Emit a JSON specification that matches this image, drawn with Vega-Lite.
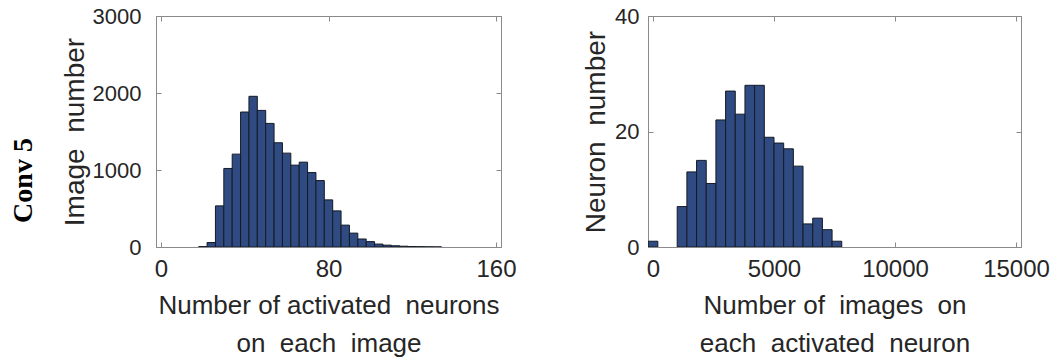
{
  "$schema": "https://vega.github.io/schema/vega-lite/v6.json",
  "background": "white",
  "padding": {"left": 9, "top": 4, "right": 2, "bottom": 2},
  "title": {"text": "Conv 5", "orient": "left", "anchor": "middle", "font": "Liberation Serif", "fontSize": 28, "fontWeight": "bold", "color": "black", "offset": 23},
  "datasets": {
    "left": [
      {"x0": 18, "x1": 22, "count": 5},
      {"x0": 22, "x1": 26, "count": 58},
      {"x0": 26, "x1": 30, "count": 534},
      {"x0": 30, "x1": 34, "count": 1020},
      {"x0": 34, "x1": 38, "count": 1206},
      {"x0": 38, "x1": 42, "count": 1753},
      {"x0": 42, "x1": 46, "count": 1957},
      {"x0": 46, "x1": 50, "count": 1774},
      {"x0": 50, "x1": 54, "count": 1605},
      {"x0": 54, "x1": 58, "count": 1354},
      {"x0": 58, "x1": 62, "count": 1219},
      {"x0": 62, "x1": 66, "count": 1063},
      {"x0": 66, "x1": 70, "count": 1102},
      {"x0": 70, "x1": 74, "count": 967},
      {"x0": 74, "x1": 78, "count": 863},
      {"x0": 78, "x1": 82, "count": 612},
      {"x0": 82, "x1": 86, "count": 469},
      {"x0": 86, "x1": 90, "count": 284},
      {"x0": 90, "x1": 94, "count": 180},
      {"x0": 94, "x1": 98, "count": 104},
      {"x0": 98, "x1": 102, "count": 70},
      {"x0": 102, "x1": 106, "count": 38},
      {"x0": 106, "x1": 110, "count": 24},
      {"x0": 110, "x1": 114, "count": 16},
      {"x0": 114, "x1": 118, "count": 10},
      {"x0": 118, "x1": 122, "count": 6},
      {"x0": 122, "x1": 126, "count": 4},
      {"x0": 126, "x1": 130, "count": 2},
      {"x0": 130, "x1": 134, "count": 1}
    ],
    "right": [
      {"x0": -200, "x1": 200, "count": 1},
      {"x0": 1000, "x1": 1400, "count": 7},
      {"x0": 1400, "x1": 1800, "count": 13},
      {"x0": 1800, "x1": 2200, "count": 15},
      {"x0": 2200, "x1": 2600, "count": 11},
      {"x0": 2600, "x1": 3000, "count": 22},
      {"x0": 3000, "x1": 3400, "count": 27},
      {"x0": 3400, "x1": 3800, "count": 23},
      {"x0": 3800, "x1": 4200, "count": 28},
      {"x0": 4200, "x1": 4600, "count": 28},
      {"x0": 4600, "x1": 5000, "count": 19},
      {"x0": 5000, "x1": 5400, "count": 18},
      {"x0": 5400, "x1": 5800, "count": 17},
      {"x0": 5800, "x1": 6200, "count": 14},
      {"x0": 6200, "x1": 6600, "count": 4},
      {"x0": 6600, "x1": 7000, "count": 5},
      {"x0": 7000, "x1": 7400, "count": 3},
      {"x0": 7400, "x1": 7800, "count": 1}
    ]
  },
  "bounds": "flush",
  "spacing": 147,
  "hconcat": [
    {
      "width": 345,
      "height": 231,
      "data": {"name": "left"},
      "resolve": {"axis": {"x": "independent", "y": "independent"}},
      "layer": [
        {
          "mark": {"type": "bar", "orient": "vertical", "fill": "#2f4b82", "stroke": "#151a26", "strokeWidth": 1, "clip": true},
          "encoding": {
            "x": {"field": "x0", "type": "quantitative", "scale": {"domain": [0, 160], "nice": false, "zero": false},
                  "axis": {"values": [0, 80, 160], "format": "d", "title": ["Number of activated\u00a0 neurons", "on\u00a0 each\u00a0 image"]}},
            "x2": {"field": "x1"},
            "y": {"field": "count", "type": "quantitative", "scale": {"domain": [0, 3000], "nice": false},
                  "axis": {"values": [0, 1000, 2000, 3000], "format": "d", "title": "Image\u00a0 number", "labelPadding": 20, "minExtent": 60, "maxExtent": 60, "titlePadding": 7}},
            "y2": {"datum": 0}
          }
        },
        {
          "mark": {"type": "bar", "orient": "vertical", "opacity": 0, "clip": true},
          "encoding": {
            "x": {"field": "x0", "type": "quantitative", "scale": {"domain": [0, 160], "nice": false, "zero": false},
                  "axis": {"orient": "top", "values": [0, 80, 160], "labels": false, "title": null, "minExtent": 0, "maxExtent": 0}},
            "x2": {"field": "x1"},
            "y": {"field": "count", "type": "quantitative", "scale": {"domain": [0, 3000], "nice": false},
                  "axis": {"orient": "right", "values": [0, 1000, 2000, 3000], "labels": false, "title": null, "minExtent": 0, "maxExtent": 0}},
            "y2": {"datum": 0}
          }
        }
      ]
    },
    {
      "width": 373,
      "height": 231,
      "data": {"name": "right"},
      "resolve": {"axis": {"x": "independent", "y": "independent"}},
      "layer": [
        {
          "mark": {"type": "bar", "orient": "vertical", "fill": "#2f4b82", "stroke": "#151a26", "strokeWidth": 1, "clip": true},
          "encoding": {
            "x": {"field": "x0", "type": "quantitative", "scale": {"domain": [0, 15000], "nice": false, "zero": false},
                  "axis": {"values": [0, 5000, 10000, 15000], "format": "d", "title": ["Number of\u00a0 images\u00a0 on", "each\u00a0 activated\u00a0 neuron"]}},
            "x2": {"field": "x1"},
            "y": {"field": "count", "type": "quantitative", "scale": {"domain": [0, 40], "nice": false},
                  "axis": {"values": [0, 20, 40], "format": "d", "title": "Neuron\u00a0 number", "labelPadding": 14, "minExtent": 34, "maxExtent": 34, "titlePadding": 4}},
            "y2": {"datum": 0}
          }
        },
        {
          "mark": {"type": "bar", "orient": "vertical", "opacity": 0, "clip": true},
          "encoding": {
            "x": {"field": "x0", "type": "quantitative", "scale": {"domain": [0, 15000], "nice": false, "zero": false},
                  "axis": {"orient": "top", "values": [0, 5000, 10000, 15000], "labels": false, "title": null, "minExtent": 0, "maxExtent": 0}},
            "x2": {"field": "x1"},
            "y": {"field": "count", "type": "quantitative", "scale": {"domain": [0, 40], "nice": false},
                  "axis": {"orient": "right", "values": [0, 20, 40], "labels": false, "title": null, "minExtent": 0, "maxExtent": 0}},
            "y2": {"datum": 0}
          }
        }
      ]
    }
  ],
  "config": {
    "view": {"stroke": "#8a8a8a", "strokeWidth": 1},
    "axis": {
      "grid": false,
      "domainColor": "#8a8a8a",
      "tickColor": "#8a8a8a",
      "tickSize": -5,
      "labelColor": "#262626",
      "titleColor": "#262626",
      "labelFont": "Liberation Sans",
      "titleFont": "Liberation Sans",
      "titleFontWeight": "normal",
      "labelFlush": false,
      "labelOverlap": false
    },
    "axisX": {"labelFontSize": 24, "titleFontSize": 26, "titleLineHeight": 38, "labelPadding": 15, "minExtent": 36, "maxExtent": 36, "titlePadding": 9},
    "axisY": {"labelFontSize": 22, "titleFontSize": 28}
  }
}
